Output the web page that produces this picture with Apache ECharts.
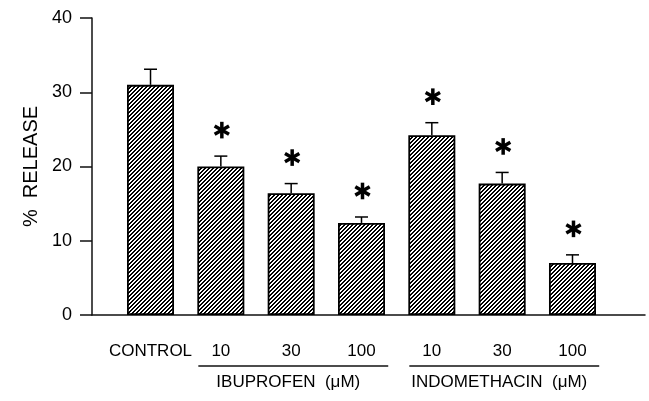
<!DOCTYPE html>
<html><head><meta charset="utf-8">
<script src="https://cdn.jsdelivr.net/npm/echarts@6/dist/echarts.min.js"></script>
<style>html,body{margin:0;padding:0;background:#fff}#c{width:649px;height:401px}</style>
</head><body><div id="c"></div>
<script>
const categories = ['CONTROL', '10', '30', '100', '10', '30', '100'];
const releaseMeans = [31.0, 20.0, 16.4, 12.4, 24.2, 17.7, 7.0];
const releaseErrors = [2.1, 1.4, 1.3, 0.8, 1.7, 1.5, 1.1];
const significant = [0, 1, 1, 1, 1, 1, 1];
const yTicks = [0, 10, 20, 30, 40];
const groupNames = ['IBUPROFEN  (\u03BCM)', 'INDOMETHACIN  (\u03BCM)'];
const groupStart = [1, 4];
const groupEnd = [3, 6];

const FONT = "'Liberation Sans', Arial, Helvetica, sans-serif";

function hatch() {
  const p = 4;
  const c = document.createElement('canvas');
  c.width = p; c.height = p;
  const g = c.getContext('2d');
  g.fillStyle = '#fff'; g.fillRect(0, 0, p, p);
  g.fillStyle = '#000';
  for (let x = 0; x < p; x++) for (let y = 0; y < p; y++) {
    if ((x + y) % p < 2) g.fillRect(x, y, 1, 1);
  }
  return c;
}

const chart = echarts.init(document.getElementById('c'), null, {renderer: 'canvas'});
const yMin = yTicks[0], yMax = yTicks[yTicks.length - 1], yStep = yTicks[1] - yTicks[0];

chart.setOption({
  animation: false,
  backgroundColor: '#fff',
  textStyle: {fontFamily: FONT, color: '#000'},
  grid: [
    {left: 92, right: 4, top: 18, bottom: 86},
    {left: 115.35, right: 41.35, top: 18, bottom: 86}
  ],
  xAxis: [
    {type: 'value', gridIndex: 0, min: 0, max: 1,
     axisLine: {show: true, lineStyle: {color: '#111', width: 1.5}},
     axisTick: {show: false}, axisLabel: {show: false}, splitLine: {show: false}},
    {type: 'category', gridIndex: 1, data: categories,
     axisLine: {show: false}, axisTick: {show: false},
     axisLabel: {fontSize: 17, color: '#000', margin: 28, fontFamily: FONT, interval: 0}}
  ],
  yAxis: [
    {type: 'value', gridIndex: 0, min: yMin, max: yMax, interval: yStep,
     name: '%  RELEASE', nameLocation: 'middle', nameGap: 47,
     nameTextStyle: {fontSize: 20, color: '#000', fontFamily: FONT},
     axisLine: {show: true, lineStyle: {color: '#111', width: 1.5}},
     axisTick: {show: true, length: 12, lineStyle: {color: '#111', width: 1.5}},
     axisLabel: {fontSize: 18, color: '#000', margin: 20, fontFamily: FONT},
     splitLine: {show: false}},
    {type: 'value', gridIndex: 1, min: yMin, max: yMax, show: false, splitLine: {show: false}}
  ],
  series: [
    {type: 'bar', xAxisIndex: 1, yAxisIndex: 1, barWidth: 47, z: 2,
     data: releaseMeans,
     itemStyle: {color: {image: hatch(), repeat: 'repeat'}, borderColor: '#000', borderWidth: 1.8}},
    {type: 'custom', xAxisIndex: 1, yAxisIndex: 1, z: 3, clip: false,
     data: releaseMeans.map((m, i) => [i, m, releaseErrors[i], significant[i]]),
     renderItem: function (params, api) {
       const i = api.value(0), m = api.value(1), e = api.value(2), s = api.value(3);
       const base = api.coord([i, m]);
       const top = api.coord([i, m + e]);
       const st = {stroke: '#000', lineWidth: 1.5};
       const children = [
         {type: 'line', shape: {x1: base[0], y1: base[1], x2: top[0], y2: top[1]}, style: st},
         {type: 'line', shape: {x1: top[0] - 6.5, y1: top[1], x2: top[0] + 6.5, y2: top[1]}, style: st}
       ];
       if (s) {
         const cx = top[0] + 1, cy = top[1] - 26;
         for (const a of [90, 30, 150]) {
           const r = a * Math.PI / 180;
           children.push({type: 'line',
             shape: {x1: cx - 8.3 * Math.cos(r), y1: cy - 8.3 * Math.sin(r), x2: cx + 8.3 * Math.cos(r), y2: cy + 8.3 * Math.sin(r)},
             style: {stroke: '#000', lineWidth: 3.5}});
         }
       }
       return {type: 'group', children: children};
     }},
    {type: 'custom', xAxisIndex: 1, yAxisIndex: 1, z: 3, clip: false,
     data: groupNames.map((n, k) => [groupStart[k], groupEnd[k]]),
     renderItem: function (params, api) {
       const a = api.coord([api.value(0), 0]);
       const b = api.coord([api.value(1), 0]);
       const band = api.size([1, 0])[0];
       const x1 = a[0] - 0.32 * band, x2 = b[0] + 0.38 * band;
       const y = a[1] + 51;
       return {type: 'group', children: [
         {type: 'line', shape: {x1: x1, y1: y, x2: x2, y2: y}, style: {stroke: '#111', lineWidth: 1.3}},
         {type: 'text', style: {text: groupNames[params.dataIndex], x: (x1 + x2) / 2 - 5, y: y + 16,
           align: 'center', verticalAlign: 'middle', fontSize: 17, fontFamily: FONT, fill: '#000'}}
       ]};
     }}
  ]
});
</script>
</body></html>
